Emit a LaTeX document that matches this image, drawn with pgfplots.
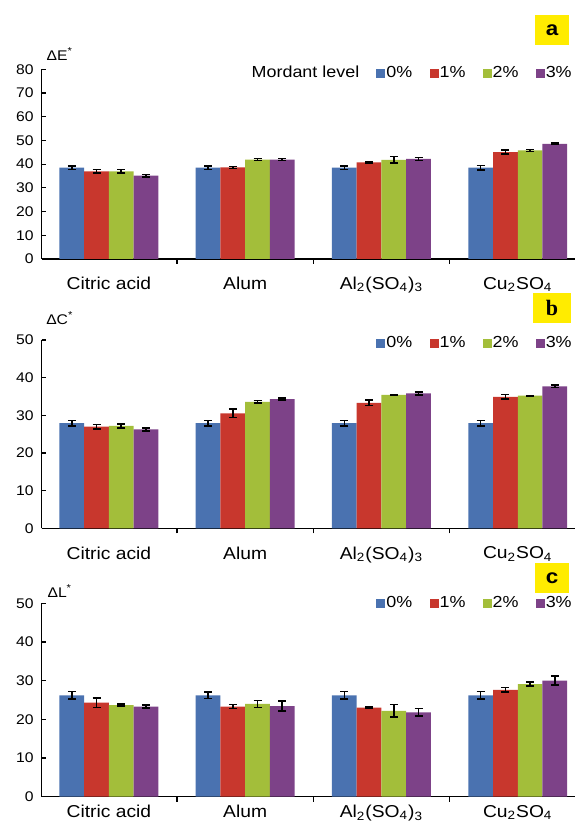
\documentclass[border=0pt]{standalone}
\usepackage{fontspec}
\setmainfont{Liberation Sans}[FakeStretch=1.12]
\newfontfamily\serifb{Liberation Serif}
\usepackage{pgfplots}
\pgfplotsset{compat=1.18}
\usepackage{pgfplotstable}

\definecolor{cb}{RGB}{74,114,176}
\definecolor{cr}{RGB}{200,55,45}
\definecolor{cg}{RGB}{163,190,58}
\definecolor{cp}{RGB}{125,66,136}
\definecolor{yel}{RGB}{255,236,0}

\pgfplotstableread{
x y0 e0 y1 e1 y2 e2 y3 e3
0 38.5 0.8 37.0 0.8 37.0 0.7 35.2 0.5
1 38.5 0.8 38.6 0.4 41.9 0.4 41.9 0.4
2 38.5 0.8 40.8 0.3 41.8 1.4 42.2 0.6
3 38.5 0.9 45.1 0.8 45.8 0.4 48.6 0.3
}\tabE

\pgfplotstableread{
x y0 e0 y1 e1 y2 e2 y3 e3
0 27.9 0.7 27.0 0.6 27.2 0.5 26.3 0.4
1 27.9 0.7 30.5 1.1 33.6 0.3 34.3 0.3
2 27.9 0.7 33.3 0.7 35.4 0.1 35.8 0.4
3 27.9 0.7 34.9 0.6 35.2 0.1 37.7 0.3
}\tabC

\pgfplotstableread{
x y0 e0 y1 e1 y2 e2 y3 e3
0 26.2 1.0 24.3 1.2 23.7 0.3 23.3 0.4
1 26.2 0.8 23.3 0.5 24.0 0.9 23.4 1.3
2 26.2 1.0 23.0 0.2 22.2 1.6 21.8 1.0
3 26.2 1.0 27.6 0.6 29.1 0.5 30.0 1.2
}\tabL

\pgfplotsset{
  panel/.style={
    scale only axis, width=266.65pt,
    xmin=-0.493, xmax=3.42, ymin=0,
    axis x line=bottom, axis y line=left,
    x axis line style={-, line width=0.7pt},
    y axis line style={-, line width=0.7pt},
    tick align=inside,
    major tick length=2pt, minor tick length=2.5pt,
    tick style={black, line width=0.6pt},
    xtick={0,1,2,3},
    x tick style={draw=none},
    minor xtick={0.5,1.5,2.5},
    minor x tick style={draw=black, line width=0.6pt},
    xticklabels={Citric acid, Alum, Al\textsubscript{2}(SO\textsubscript{4})\textsubscript{3}, Cu\textsubscript{2}SO\textsubscript{4}},
    /pgf/number format/assume math mode=true,
    yticklabel style={font=\fontsize{7}{8}\selectfont, xshift=-0.5pt},
    xticklabel style={font=\fontsize{8.6}{10}\selectfont},
    ybar, bar width=0.1815,
    clip=false,
    legend columns=-1,
    legend style={draw=none, fill=none, inner sep=0pt, outer sep=0pt,
      font=\fontsize{8}{9}\selectfont, nodes={inner sep=0.6pt},
      /tikz/every even column/.append style={column sep=8pt}},
  },
  eb/.style={error bars/.cd, y dir=both, y explicit,
    error bar style={line width=0.8pt, black},
    error mark options={rotate=90, mark size=2pt, line width=0.8pt, black}},
  sq/.style={legend image code/.code={\fill[#1] (0pt,-2pt) rectangle (4pt,2pt);}},
}

\begin{document}
\begin{tikzpicture}
\useasboundingbox (0pt,0pt) rectangle (288.5pt,410.5pt);

% ---------- panel a ----------
\begin{axis}[panel, at={(20.85pt,281pt)}, anchor=south west, height=94.85pt,
  ymax=80, ytick={0,10,...,80},
  xticklabel style={yshift=-3.5pt},
  legend style={at={(rel axis cs:0.996,0.978)}, anchor=east}]
\addlegendimage{empty legend}\addlegendentry{Mordant level\hspace{4pt}}
\addlegendimage{sq=cb}\addlegendentry{0\%}
\addlegendimage{sq=cr}\addlegendentry{1\%}
\addlegendimage{sq=cg}\addlegendentry{2\%}
\addlegendimage{sq=cp}\addlegendentry{3\%}
\addplot[forget plot, fill=cb, draw=none, bar shift=-0.27225, eb] table[x=x,y=y0,y error=e0]{\tabE};
\addplot[forget plot, fill=cr, draw=none, bar shift=-0.09075, eb] table[x=x,y=y1,y error=e1]{\tabE};
\addplot[forget plot, fill=cg, draw=none, bar shift=0.09075, eb] table[x=x,y=y2,y error=e2]{\tabE};
\addplot[forget plot, fill=cp, draw=none, bar shift=0.27225, eb] table[x=x,y=y3,y error=e3]{\tabE};
\node[font=\fontsize{7}{8}\selectfont] at (rel axis cs:0.034,1.081) {ΔE\textsuperscript{*}};
\node[fill=yel, minimum width=17pt, minimum height=15pt, inner sep=0pt,
  font=\bfseries\fontsize{10}{10}\selectfont] at (rel axis cs:0.957,1.207) {a};
\end{axis}

% ---------- panel b ----------
\begin{axis}[panel, at={(20.85pt,146.35pt)}, anchor=south west, height=94.15pt,
  ymax=50, ytick={0,10,...,50},
  xticklabel style={yshift=-3.8pt},
  legend style={at={(rel axis cs:0.996,0.982)}, anchor=east}]
\addlegendimage{sq=cb}\addlegendentry{0\%}
\addlegendimage{sq=cr}\addlegendentry{1\%}
\addlegendimage{sq=cg}\addlegendentry{2\%}
\addlegendimage{sq=cp}\addlegendentry{3\%}
\addplot[forget plot, fill=cb, draw=none, bar shift=-0.27225, eb] table[x=x,y=y0,y error=e0]{\tabC};
\addplot[forget plot, fill=cr, draw=none, bar shift=-0.09075, eb] table[x=x,y=y1,y error=e1]{\tabC};
\addplot[forget plot, fill=cg, draw=none, bar shift=0.09075, eb] table[x=x,y=y2,y error=e2]{\tabC};
\addplot[forget plot, fill=cp, draw=none, bar shift=0.27225, eb] table[x=x,y=y3,y error=e3]{\tabC};
\node[font=\fontsize{7}{8}\selectfont] at (rel axis cs:0.034,1.117) {ΔC\textsuperscript{*}};
\node[fill=yel, minimum width=19pt, minimum height=15pt, inner sep=0pt,
  font=\serifb\bfseries\fontsize{11}{11}\selectfont] at (rel axis cs:0.957,1.170) {b};
\end{axis}

% ---------- panel c ----------
\begin{axis}[panel, at={(20.85pt,12.15pt)}, anchor=south west, height=96.7pt,
  ymax=50, ytick={0,10,...,50},
  xticklabel style={yshift=1.2pt},
  legend style={at={(rel axis cs:0.996,1.0)}, anchor=east}]
\addlegendimage{sq=cb}\addlegendentry{0\%}
\addlegendimage{sq=cr}\addlegendentry{1\%}
\addlegendimage{sq=cg}\addlegendentry{2\%}
\addlegendimage{sq=cp}\addlegendentry{3\%}
\addplot[forget plot, fill=cb, draw=none, bar shift=-0.27225, eb] table[x=x,y=y0,y error=e0]{\tabL};
\addplot[forget plot, fill=cr, draw=none, bar shift=-0.09075, eb] table[x=x,y=y1,y error=e1]{\tabL};
\addplot[forget plot, fill=cg, draw=none, bar shift=0.09075, eb] table[x=x,y=y2,y error=e2]{\tabL};
\addplot[forget plot, fill=cp, draw=none, bar shift=0.27225, eb] table[x=x,y=y3,y error=e3]{\tabL};
\node[font=\fontsize{7}{8}\selectfont] at (rel axis cs:0.034,1.064) {ΔL\textsuperscript{*}};
\node[fill=yel, minimum width=17pt, minimum height=15pt, inner sep=0pt,
  font=\bfseries\fontsize{10}{10}\selectfont] at (rel axis cs:0.957,1.131) {c};
\end{axis}
\end{tikzpicture}
\end{document}
